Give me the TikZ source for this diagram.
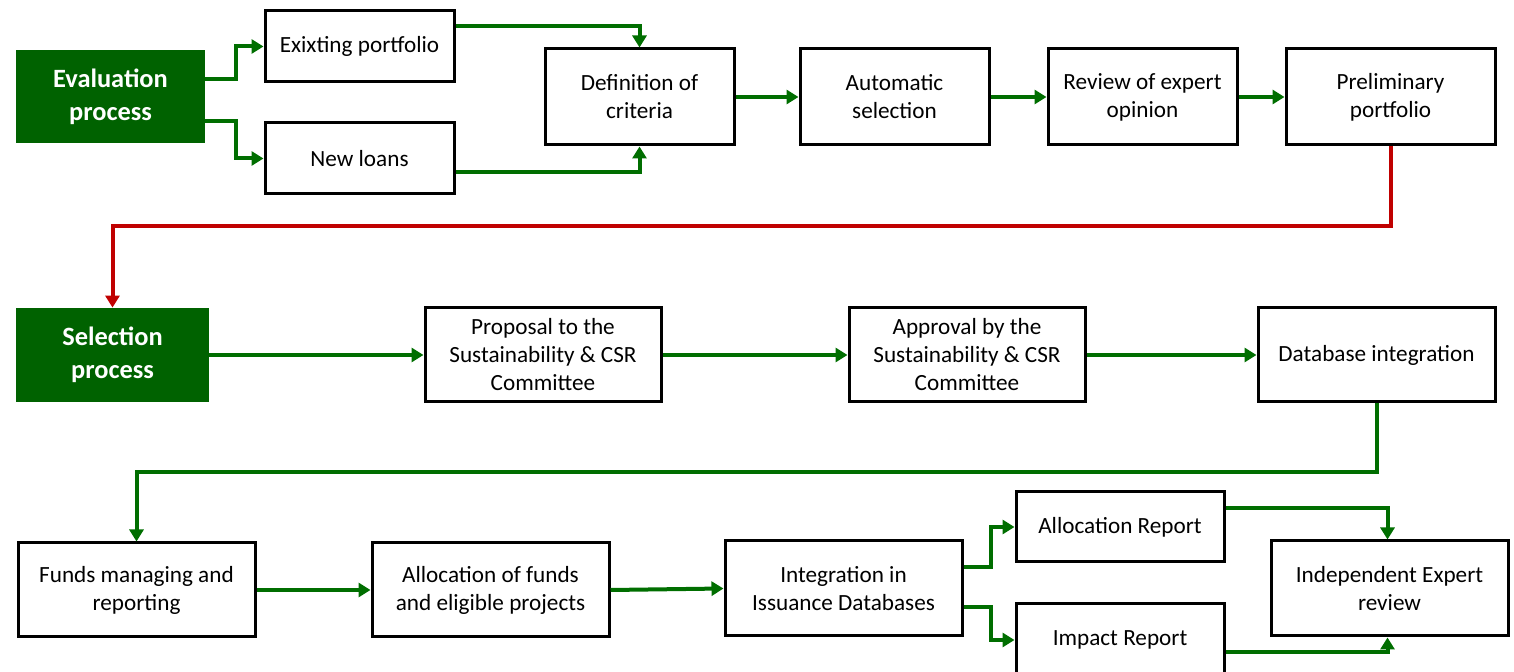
\documentclass[tikz,border=0pt]{standalone}
\usepackage{fontspec}
\setmainfont{Carlito}
\usetikzlibrary{calc,arrows.meta}
\definecolor{procgreen}{RGB}{0,98,0}
\definecolor{linkgreen}{RGB}{0,110,0}
\definecolor{linkred}{RGB}{192,0,0}
\tikzset{
  box/.style={draw=black, line width=1.5pt, fill=white, inner sep=0pt,
    align=center, font=\fontsize{11.6}{14}\selectfont},
  phase/.style={fill=procgreen, inner sep=0pt, align=center, text=white,
    font=\fontsize{13.2}{16.5}\selectfont\bfseries},
  link/.style={draw=linkgreen, line width=2pt, -{Triangle[length=6pt,width=7pt]}},
  redlink/.style={draw=linkred, line width=2pt, -{Triangle[length=6pt,width=7pt]}}
}
% node at pixel rectangle: left, top, right, bottom
\newcommand{\pbox}[6]{%
  \node[#1, minimum width={(#4-#2)*0.5pt}, minimum height={(#5-#3)*0.5pt}]
    (#6) at ({(#2+#4)/2},{(#3+#5)/2})}
\begin{document}
\begin{tikzpicture}[x=0.5pt,y=-0.5pt]
\useasboundingbox (0,0) rectangle (1514,672);

% evaluation stage
\pbox{phase}{16}{50}{205}{143}{eval} {Evaluation\\process};
\pbox{box}{265}{11}{454}{82}{exist} {Exixting portfolio};
\pbox{box}{265}{123}{454}{194}{newl} {New loans};
\pbox{box}{545}{49}{734}{145}{crit} {Definition of\\criteria};
\pbox{box}{800}{49}{989}{145}{auto} {Automatic\\selection};
\pbox{box}{1048}{49}{1237}{145}{expert} {Review of expert\\opinion};
\pbox{box}{1286}{49}{1495}{145}{prelim} {Preliminary\\portfolio};

% selection stage
\pbox{phase}{16}{308}{209}{402}{select} {Selection\\process};
\pbox{box}{425}{308}{661}{402}{propose} {Proposal to the\\Sustainability \& CSR\\Committee};
\pbox{box}{849}{308}{1085}{402}{approve} {Approval by the\\Sustainability \& CSR\\Committee};
\pbox{box}{1258}{308}{1495}{402}{dbint} {Database integration};

% funds stage
\pbox{box}{18}{543}{255}{637}{funds} {Funds managing and\\reporting};
\pbox{box}{372}{543}{609}{637}{alloc} {Allocation of funds\\and eligible projects};
\pbox{box}{725}{541}{962}{636}{issue} {Integration in\\Issuance Databases};
\pbox{box}{1016}{492}{1224}{562}{arep} {Allocation Report};
\pbox{box}{1016}{604}{1224}{676}{irep} {Impact Report};
\pbox{box}{1271}{541}{1508}{636}{review} {Independent Expert\\review};

% connectors, evaluation stage
\draw[link] ($(eval.east)+(0,-17)$) -- ++(31,0) |- (exist.west);
\draw[link] ($(eval.east)+(0,25)$) -- ++(31,0) |- (newl.west);
\draw[link] ($(exist.east)+(0,-20)$) -| (crit.north);
\draw[link] ($(newl.east)+(0,14)$) -| (crit.south);
\draw[link] (crit) -- (auto);
\draw[link] (auto) -- (expert);
\draw[link] (expert) -- (prelim);

% hand-over to the selection stage
\coordinate (redturn) at (0,226);
\draw[redlink] (prelim.south) |- (redturn -| select.north) -- (select.north);

% connectors, selection stage
\draw[link] (select) -- (propose);
\draw[link] (propose) -- (approve);
\draw[link] (approve) -- (dbint);

% hand-over to the funds stage
\coordinate (greenturn) at (0,472);
\draw[link] (dbint.south) |- (greenturn -| funds.north) -- (funds.north);

% connectors, funds stage
\draw[link] (funds) -- (alloc);
\draw[link] (alloc.east) -- (issue.west);
\draw[link] ($(issue.east)+(0,-21)$) -- ++(27,0) |- (arep.west);
\draw[link] ($(issue.east)+(0,19)$) -- ++(27,0) |- (irep.west);
\draw[link] ($(arep.east)+(0,-19)$) -| ($(review.north)+(-2,0)$);
\draw[link] ($(irep.east)+(0,12)$) -| ($(review.south)+(-2,0)$);
\end{tikzpicture}
\end{document}
